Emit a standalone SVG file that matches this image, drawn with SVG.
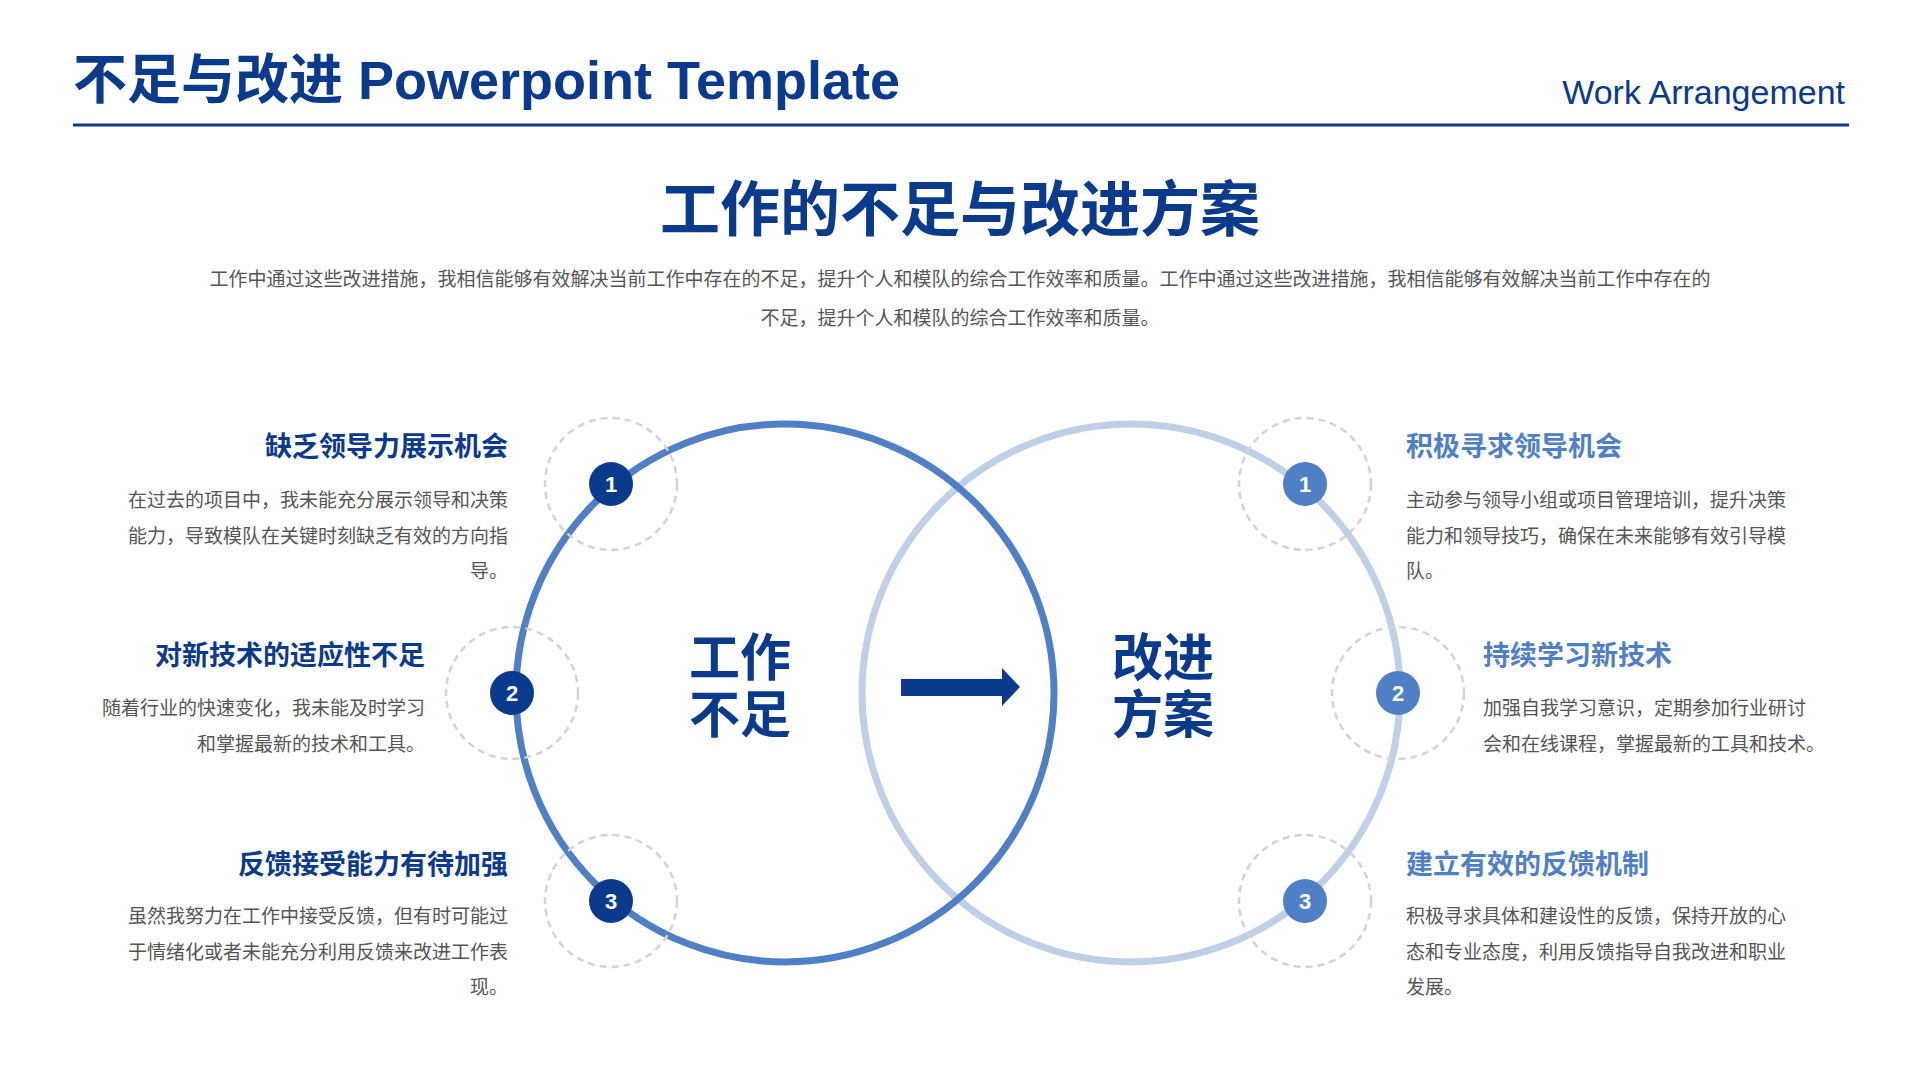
<svg xmlns="http://www.w3.org/2000/svg" width="1920" height="1080" viewBox="0 0 1920 1080">
<style>
text{font-family:"Liberation Sans","Noto Sans CJK SC",sans-serif}
.t{font-weight:bold;font-size:27px;fill:#0a3a8c}
.tr{font-weight:bold;font-size:27px;fill:#4f7fc4}
.b{font-size:19px;fill:#555}
.dash{fill:none;stroke:#d4d4d4;stroke-width:2.5;stroke-dasharray:7 5}
.n{font-weight:bold;font-size:22px;fill:#fff;text-anchor:middle}
</style>
<rect width="1920" height="1080" fill="#fff"/>
<g id="header">
<text x="73" y="99" font-size="54" font-weight="bold" fill="#0a3a8c">不足与改进 Powerpoint Template</text>
<text x="1845" y="104" font-size="34" fill="#0a3a8c" text-anchor="end">Work Arrangement</text>
<line x1="73" y1="125" x2="1849" y2="125" stroke="#0a3a8c" stroke-width="3"/>
<text x="960" y="231" font-size="60" font-weight="bold" fill="#0a3a8c" text-anchor="middle">工作的不足与改进方案</text>
<text x="960" y="286" class="b" font-size="21" fill="#444" text-anchor="middle">工作中通过这些改进措施，我相信能够有效解决当前工作中存在的不足，提升个人和模队的综合工作效率和质量。工作中通过这些改进措施，我相信能够有效解决当前工作中存在的</text>
<text x="960" y="325" class="b" font-size="21" fill="#444" text-anchor="middle">不足，提升个人和模队的综合工作效率和质量。</text>
</g>
<g id="circles">
<circle cx="1131" cy="693" r="269" fill="none" stroke="#bfd0e6" stroke-width="7"/>
<circle cx="785" cy="693" r="269" fill="none" stroke="#4f7fc4" stroke-width="7"/>
</g>
<g id="center-left"><text x="740" y="676" font-size="51" font-weight="bold" fill="#0a3a8c" text-anchor="middle">工作</text><text x="740" y="733" font-size="51" font-weight="bold" fill="#0a3a8c" text-anchor="middle">不足</text></g>
<g id="center-right"><text x="1163" y="676" font-size="51" font-weight="bold" fill="#0a3a8c" text-anchor="middle">改进</text><text x="1163" y="733" font-size="51" font-weight="bold" fill="#0a3a8c" text-anchor="middle">方案</text></g>
<g id="connectors"><polygon points="901,679 1002,679 1002,668 1020,687 1002,706 1002,696 901,696" fill="#0a3a8c"/></g>
<g id="badge-l1"><circle cx="611" cy="484" r="66" class="dash"/><circle cx="611" cy="484" r="22" fill="#0a3a8c"/><text x="611" y="492" class="n">1</text></g>
<g id="badge-l2"><circle cx="512" cy="693" r="66" class="dash"/><circle cx="512" cy="693" r="22" fill="#0a3a8c"/><text x="512" y="701" class="n">2</text></g>
<g id="badge-l3"><circle cx="611" cy="901" r="66" class="dash"/><circle cx="611" cy="901" r="22" fill="#0a3a8c"/><text x="611" y="909" class="n">3</text></g>
<g id="badge-r1"><circle cx="1305" cy="484" r="66" class="dash"/><circle cx="1305" cy="484" r="22" fill="#4f7fc4"/><text x="1305" y="492" class="n">1</text></g>
<g id="badge-r2"><circle cx="1398" cy="693" r="66" class="dash"/><circle cx="1398" cy="693" r="22" fill="#4f7fc4"/><text x="1398" y="701" class="n">2</text></g>
<g id="badge-r3"><circle cx="1305" cy="901" r="66" class="dash"/><circle cx="1305" cy="901" r="22" fill="#4f7fc4"/><text x="1305" y="909" class="n">3</text></g>
<g id="item-l1" text-anchor="end"><text x="508" y="456" class="t">缺乏领导力展示机会</text>
<text x="508" y="507" class="b">在过去的项目中，我未能充分展示领导和决策</text><text x="508" y="543" class="b">能力，导致模队在关键时刻缺乏有效的方向指</text><text x="508" y="578" class="b">导。</text></g>
<g id="item-l2" text-anchor="end"><text x="425" y="665" class="t">对新技术的适应性不足</text>
<text x="425" y="715" class="b">随着行业的快速变化，我未能及时学习</text><text x="425" y="751" class="b">和掌握最新的技术和工具。</text></g>
<g id="item-l3" text-anchor="end"><text x="508" y="874" class="t">反馈接受能力有待加强</text>
<text x="508" y="923" class="b">虽然我努力在工作中接受反馈，但有时可能过</text><text x="508" y="959" class="b">于情绪化或者未能充分利用反馈来改进工作表</text><text x="508" y="994" class="b">现。</text></g>
<g id="item-r1"><text x="1406" y="456" class="tr">积极寻求领导机会</text>
<text x="1406" y="507" class="b">主动参与领导小组或项目管理培训，提升决策</text><text x="1406" y="543" class="b">能力和领导技巧，确保在未来能够有效引导模</text><text x="1406" y="578" class="b">队。</text></g>
<g id="item-r2"><text x="1483" y="665" class="tr">持续学习新技术</text>
<text x="1483" y="715" class="b">加强自我学习意识，定期参加行业研讨</text><text x="1483" y="751" class="b">会和在线课程，掌握最新的工具和技术。</text></g>
<g id="item-r3"><text x="1406" y="874" class="tr">建立有效的反馈机制</text>
<text x="1406" y="923" class="b">积极寻求具体和建设性的反馈，保持开放的心</text><text x="1406" y="959" class="b">态和专业态度，利用反馈指导自我改进和职业</text><text x="1406" y="994" class="b">发展。</text></g>
</svg>
